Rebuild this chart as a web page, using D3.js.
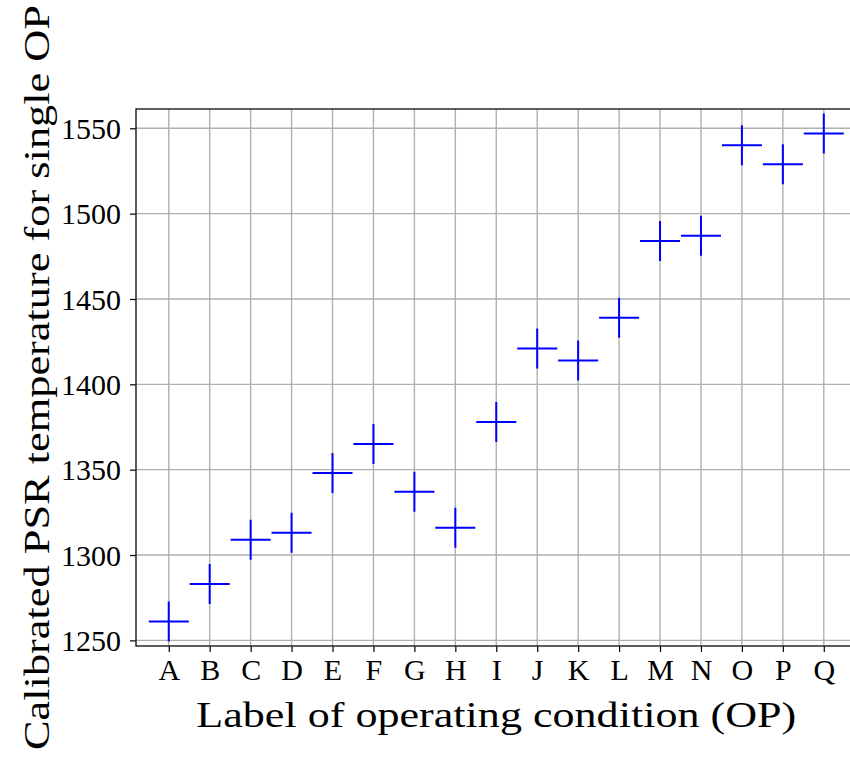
<!DOCTYPE html>
<html>
<head>
<meta charset="utf-8">
<script src="https://cdn.jsdelivr.net/npm/d3@7"></script>
<style>
  html, body { margin: 0; padding: 0; background: #fff; }
  svg { display: block; }
  svg text { font-family: "Liberation Serif", "Times New Roman", "DejaVu Serif", serif !important; fill: #000; }
</style>
</head>
<body>
<script>
// ---- data ----
const categories = ["A","B","C","D","E","F","G","H","I","J","K","L","M","N","O","P","Q"];
const temperatures = [1261, 1283, 1309, 1313, 1348, 1365, 1337, 1316, 1378, 1421, 1414, 1439, 1484, 1487, 1540, 1529, 1547];
const yTicks = [1250, 1300, 1350, 1400, 1450, 1500, 1550];
const xLabel = "Label of operating condition (OP)";
const yLabel = "Calibrated PSR temperature for single OP";

// ---- layout ----
const W = 850, H = 757;
const plot = { left: 136, top: 109, bottom: 646 };
const step = 40.94;
const margin = 0.05;

const svg = d3.select("body").append("svg").attr("width", W).attr("height", H);

const n = categories.length;
const xPad = (n - 1) * margin;
const xDomain = [-xPad, (n - 1) + xPad];
const plotRight = plot.left + (xDomain[1] - xDomain[0]) * step;
const x = d3.scaleLinear().domain(xDomain).range([plot.left, plotRight]);

const [ymin, ymax] = d3.extent(temperatures);
const yPad = (ymax - ymin) * margin;
const y = d3.scaleLinear().domain([ymin - yPad, ymax + yPad]).range([plot.bottom, plot.top]);

const g = svg.append("g");

// grid
g.append("g").selectAll("line").data(yTicks).join("line")
  .attr("x1", plot.left).attr("x2", plotRight)
  .attr("y1", d => y(d)).attr("y2", d => y(d))
  .attr("stroke", "#b0b0b0").attr("stroke-width", 1.4);
g.append("g").selectAll("line").data(categories).join("line")
  .attr("x1", (d, i) => x(i)).attr("x2", (d, i) => x(i))
  .attr("y1", plot.top).attr("y2", plot.bottom)
  .attr("stroke", "#b0b0b0").attr("stroke-width", 1.4);

// axes
const yAxis = d3.axisLeft(y).tickValues(yTicks).tickSize(6).tickPadding(9).tickFormat(d3.format("d"));
const yg = svg.append("g").attr("transform", `translate(${plot.left},0)`).call(yAxis);
yg.attr("font-family", null);
yg.select(".domain").remove();
yg.selectAll(".tick line").attr("stroke", "#000").attr("stroke-width", 1.2);
yg.selectAll(".tick text").attr("font-size", 30).attr("dy", "0.34em");

const xAxis = d3.axisBottom(x).tickValues(d3.range(n)).tickSize(6).tickPadding(7).tickFormat(i => categories[i]);
const xg = svg.append("g").attr("transform", `translate(0,${plot.bottom})`).call(xAxis);
xg.attr("font-family", null);
xg.select(".domain").remove();
xg.selectAll(".tick line").attr("stroke", "#000").attr("stroke-width", 1.2);
xg.selectAll(".tick text").attr("font-size", 30).attr("dy", "0.71em");

// spines
svg.append("rect")
  .attr("x", plot.left).attr("y", plot.top)
  .attr("width", plotRight - plot.left).attr("height", plot.bottom - plot.top)
  .attr("fill", "none").attr("stroke", "#1a1a1a").attr("stroke-width", 1.4);

// markers '+'
const arm = 20;
const mk = svg.append("g").attr("stroke", "#0000ff").attr("stroke-width", 2);
mk.selectAll("path").data(temperatures).join("path")
  .attr("d", (d, i) => {
    const cx = x(i), cy = y(d);
    return `M${cx - arm},${cy}H${cx + arm}M${cx},${cy - arm}V${cy + arm}`;
  })
  .attr("fill", "none");

// axis labels
const xMid = (plot.left + plotRight) / 2;
svg.append("text")
  .attr("x", xMid).attr("y", 727)
  .attr("text-anchor", "middle")
  .attr("font-size", 36)
  .attr("textLength", 600).attr("lengthAdjust", "spacingAndGlyphs")
  .text(xLabel);

const yMid = (plot.top + plot.bottom) / 2;
svg.append("text")
  .attr("transform", `translate(49,${yMid}) rotate(-90)`)
  .attr("text-anchor", "middle")
  .attr("font-size", 36)
  .attr("textLength", 745).attr("lengthAdjust", "spacingAndGlyphs")
  .text(yLabel);
</script>
</body>
</html>
